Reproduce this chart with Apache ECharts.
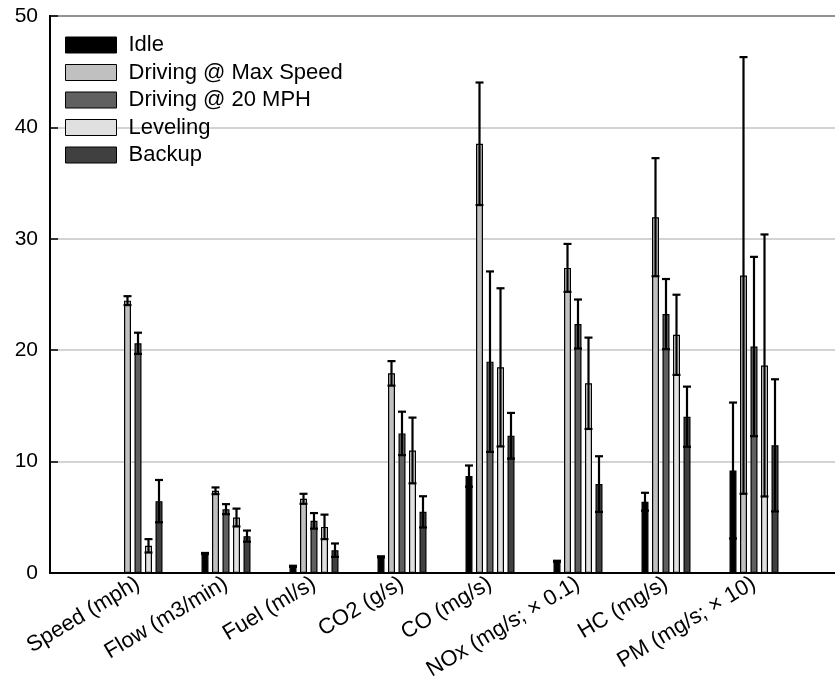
<!DOCTYPE html>
<html>
<head>
<meta charset="utf-8">
<script src="https://cdn.jsdelivr.net/npm/echarts@6/dist/echarts.min.js"></script>
<style>
html,body{margin:0;padding:0;background:#fff;}
#chart{width:835px;height:683px;}
</style>
</head>
<body>
<div id="chart"></div>
<script>
const categories = ['Speed (mph)', 'Flow (m3/min)', 'Fuel (ml/s)', 'CO2 (g/s)', 'CO (mg/s)', 'NOx (mg/s; \u00d7 0.1)', 'HC (mg/s)', 'PM (mg/s; \u00d7 10)'];
const seriesNames = ['Idle', 'Driving @ Max Speed', 'Driving @ 20 MPH', 'Leveling', 'Backup'];
const yTicks = [0, 10, 20, 30, 40, 50];

const idle        = [0,     1.75, 0.6,  1.45,  8.7,   1.05,  6.4,   9.2];
const idleErr     = [0,     0.05, 0.05, 0.05,  0.95,  0.05,  0.8,   6.1];
const maxSpeed    = [24.45, 7.38, 6.66, 17.92, 38.53, 27.39, 31.94, 26.71];
const maxSpeedErr = [0.4,   0.3,  0.45, 1.1,   5.5,   2.15,  5.3,   19.6];
const mph20       = [20.62, 5.73, 4.68, 12.53, 18.97, 22.35, 23.24, 20.33];
const mph20Err    = [0.95,  0.45, 0.7,  1.95,  8.1,   2.2,   3.15,  8.05];
const leveling    = [2.44,  4.98, 4.14, 11.0,  18.46, 17.03, 21.38, 18.63];
const levelingErr = [0.6,   0.8,  1.1,  2.95,  7.1,   4.1,   3.6,   11.76];
const backup      = [6.45,  3.31, 2.05, 5.49,  12.32, 7.98,  14.03, 11.46];
const backupErr   = [1.9,   0.5,  0.6,  1.4,   2.05,  2.5,   2.7,   5.93];

const means = [idle, maxSpeed, mph20, leveling, backup];
const errs = [idleErr, maxSpeedErr, mph20Err, levelingErr, backupErr];
const colors = ['#000000', '#c0c0c0', '#606060', '#e0e0e0', '#404040'];

const FONT = '"Liberation Sans", Arial, Helvetica, sans-serif';
const BAR_W = 7, BAR_STEP = 10.5;

// padded category axis: one empty slot at each end
const axisCats = [''].concat(categories, ['']);

const series = [];
means.forEach((arr, s) => {
  series.push({
    name: seriesNames[s],
    type: 'bar',
    barWidth: BAR_W,
    barGap: '50%',
    data: [null].concat(arr, [null]),
    itemStyle: { color: colors[s], borderColor: '#000', borderWidth: 1.2 },
    emphasis: { disabled: true },
    z: 2
  });
});

const errData = [];
means.forEach((arr, s) => {
  arr.forEach((v, i) => {
    if (errs[s][i] > 0) errData.push([i + 1, v, errs[s][i], s]);
  });
});

series.push({
  type: 'custom',
  name: 'err',
  data: errData,
  z: 5,
  silent: true,
  renderItem: function (params, api) {
    const xi = api.value(0), m = api.value(1), e = api.value(2), s = api.value(3);
    const c = api.coord([xi, m]);
    const cx = c[0] + (s - 2) * BAR_STEP;
    const yt = api.coord([xi, m + e])[1];
    const yb = api.coord([xi, Math.max(0, m - e)])[1];
    const hw = 4;
    const st = { stroke: '#000', lineWidth: 2.2 };
    return {
      type: 'group',
      children: [
        { type: 'line', shape: { x1: cx, y1: yt, x2: cx, y2: yb }, style: st },
        { type: 'line', shape: { x1: cx - hw, y1: yt, x2: cx + hw, y2: yt }, style: st },
        { type: 'line', shape: { x1: cx - hw, y1: yb, x2: cx + hw, y2: yb }, style: st }
      ]
    };
  }
});

const chart = echarts.init(document.getElementById('chart'), null, { renderer: 'canvas' });
chart.setOption({
  animation: false,
  backgroundColor: '#fff',
  textStyle: { fontFamily: FONT, color: '#000' },
  grid: {
    left: 50, top: 16, width: 792, height: 557,
    outerBoundsMode: 'none',
    containLabel: false,
    show: true, borderColor: '#000', borderWidth: 2, backgroundColor: 'transparent'
  },
  legend: {
    data: seriesNames,
    orient: 'vertical',
    left: 65, top: 34,
    padding: 0,
    itemWidth: 51, itemHeight: 16, itemGap: 5.5,
    icon: 'rect',
    itemStyle: { borderColor: '#000', borderWidth: 1 },
    textStyle: { fontSize: 22, fontFamily: FONT, color: '#000', padding: [0, 0, 0, 7] },
    selectedMode: false
  },
  xAxis: {
    type: 'category',
    data: axisCats,
    boundaryGap: false,
    axisLine: { lineStyle: { color: '#000', width: 2 } },
    axisTick: { show: false },
    splitLine: { show: false },
    axisLabel: {
      interval: 0, rotate: 31, fontSize: 22, color: '#000', fontFamily: FONT, margin: 9
    }
  },
  yAxis: {
    type: 'value',
    min: yTicks[0], max: yTicks[yTicks.length - 1], interval: 10,
    axisLine: { show: true, lineStyle: { color: '#000', width: 2 } },
    axisTick: { show: true, inside: true, length: 8, lineStyle: { color: '#000', width: 1.5 } },
    splitLine: { show: true, lineStyle: { color: '#c4c4c4', width: 1.5 } },
    axisLabel: { fontSize: 21, color: '#000', fontFamily: FONT, margin: 12 }
  },
  series: series
});
</script>
</body>
</html>
